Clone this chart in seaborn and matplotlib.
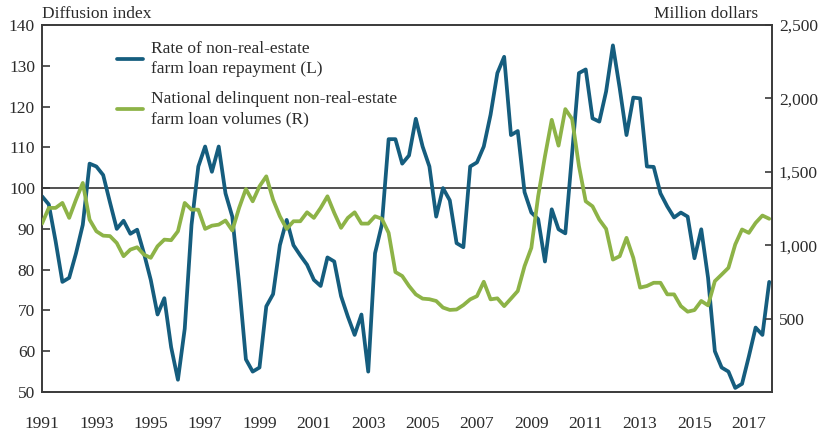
import numpy as np
import pandas as pd
import matplotlib
matplotlib.use("Agg")
import matplotlib.pyplot as plt
import seaborn as sns
from matplotlib.ticker import FuncFormatter

# -----------------------------------
# Data (quarterly, 1991Q1 - 2017Q4)
# -----------------------------------

# Rate of non-real-estate farm loan repayment, diffusion index (left axis)
repayment = [
    98, 96, 87, 77,
    78, 84, 91, 106,
    105.3, 103.2, 96.5, 90,
    92, 88.8, 89.8, 84,
    77.5, 69, 73, 61,
    53, 65.5, 91, 105.3,
    110.2, 104, 110.2, 98.7,
    93, 76.5, 58, 55,
    56, 71, 74, 86,
    92.2, 86, 83.5, 81.2,
    77.5, 76, 83, 82,
    73.5, 68.5, 64, 69,
    55, 84, 91, 112,
    112, 106, 108, 117,
    110.2, 105.3, 93, 100,
    97, 86.5, 85.5, 105.3,
    106.3, 110.2, 118, 128.2,
    132.2, 113, 114, 99,
    94, 92.4, 82, 94.8,
    89.9, 88.9, 108.5, 128.2,
    129.1, 117.1, 116.3, 123.7,
    135, 124.5, 113, 122.2,
    122, 105.3, 105.2, 98.7,
    95.5, 92.8, 94, 93,
    82.8, 89.9, 78, 60,
    56, 55, 51, 52,
    58.7, 65.8, 64, 77,
]

# National delinquent non-real-estate farm loan volumes, million dollars (right axis)
delinquent = [
    1147, 1254, 1254, 1288,
    1186, 1310, 1424, 1174,
    1095, 1065, 1062, 1015,
    925, 970, 986, 936,
    914, 993, 1038, 1034,
    1095, 1288, 1242, 1242,
    1111, 1133, 1140, 1168,
    1100, 1254, 1383, 1299,
    1401, 1469, 1310, 1197,
    1111, 1163, 1163, 1224,
    1186, 1254, 1333, 1220,
    1118, 1186, 1224, 1147,
    1147, 1197, 1180, 1084,
    817, 790, 722, 665,
    636, 632, 620, 575,
    559, 562, 592, 631,
    653, 751, 631, 638,
    585, 636, 688, 857,
    982, 1333, 1605, 1854,
    1678, 1927, 1859, 1540,
    1299, 1265, 1174, 1111,
    902, 925, 1050, 914,
    711, 722, 744, 744,
    665, 665, 585, 547,
    558, 620, 590, 755,
    800, 846, 1005, 1107,
    1084, 1152, 1202, 1180,
]

start_year = 1991
year_ticks = list(range(1991, 2018, 2))
left_ticks = list(range(50, 141, 10))
right_ticks = [500, 1000, 1500, 2000, 2500]

label_blue = "Rate of non-real-estate\nfarm loan repayment (L)"
label_green = "National delinquent non-real-estate\nfarm loan volumes (R)"

quarters = start_year + np.arange(len(repayment)) / 4
df = pd.DataFrame({
    "quarter": quarters,
    "repayment": repayment,
    "delinquent": delinquent,
})

# -----------------------------------
# Style
# -----------------------------------

sns.set_theme(style="white")
plt.rcParams["font.family"] = ["Liberation Serif", "DejaVu Serif"]
plt.rcParams["font.size"] = 12.5

dark = "#2b2b2b"
blue = "#155d7e"
green = "#8db347"

fig = plt.figure(figsize=(8.22, 4.33), dpi=100)
ax = fig.add_axes([0.0511, 0.0947, 0.888, 0.8476])
ax2 = ax.twinx()

# -----------------------------------
# Lines
# -----------------------------------

ax.axhline(100, color="#333333", linewidth=1.2, zorder=1)

sns.lineplot(data=df, x="quarter", y="repayment", ax=ax,
             color=blue, linewidth=2.7, label=label_blue, zorder=3)
sns.lineplot(data=df, x="quarter", y="delinquent", ax=ax2,
             color=green, linewidth=2.7, label=label_green, zorder=3)

# -----------------------------------
# Axes
# -----------------------------------

ax.set_xlim(1991, 2017.85)
ax.set_ylim(50, 140)
ax2.set_ylim(0, 2500)

ax.set_xticks(year_ticks)
ax.set_xticklabels([str(y) for y in year_ticks])
ax.set_yticks(left_ticks)
ax2.set_yticks(right_ticks)
ax2.yaxis.set_major_formatter(FuncFormatter(lambda v, p: f"{int(v):,}"))

ax.set_xlabel("")
ax.set_ylabel("")
ax2.set_ylabel("")

for a in (ax, ax2):
    for s in a.spines.values():
        s.set_color("#3a3a3a")
        s.set_linewidth(1.2)

ax.tick_params(axis="x", direction="in", length=6.5, width=1.2,
               color="#3a3a3a", pad=17, labelsize=12.5, labelcolor=dark)
ax.tick_params(axis="y", direction="in", length=6, width=1.2,
               color="#3a3a3a", pad=5, labelsize=12.5, labelcolor=dark,
               left=True)
ax2.tick_params(axis="y", direction="in", length=5, width=1.2,
                color="#3a3a3a", pad=5, labelsize=12.5, labelcolor=dark,
                right=True)

ax.text(0.0, 1.008, "Diffusion index", transform=ax.transAxes,
        ha="left", va="bottom", fontsize=12.5, color=dark)
ax.text(0.981, 1.008, "Million dollars", transform=ax.transAxes,
        ha="right", va="bottom", fontsize=12.5, color=dark)

# -----------------------------------
# Legend
# -----------------------------------

h1, l1 = ax.get_legend_handles_labels()
h2, l2 = ax2.get_legend_handles_labels()
if ax.get_legend() is not None:
    ax.get_legend().remove()
if ax2.get_legend() is not None:
    ax2.get_legend().remove()

leg = ax2.legend(h1 + h2, l1 + l2, loc="upper left",
                 bbox_to_anchor=(0.103, 0.957), frameon=False,
                 borderpad=0, borderaxespad=0, handlelength=1.5,
                 handletextpad=0.45, labelspacing=0.85, fontsize=12.5)
for t in leg.get_texts():
    t.set_color(dark)
    t.set_linespacing(1.33)

fig.savefig("out.png", dpi=100)
